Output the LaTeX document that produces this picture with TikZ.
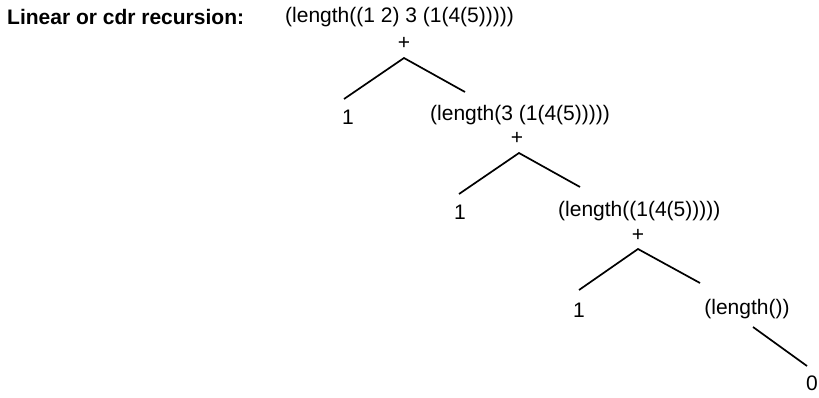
\documentclass[tikz,border=0pt]{standalone}
\usepackage{fontspec}
\setmainfont{Liberation Sans}
\begin{document}
\begin{tikzpicture}[x=1pt,y=-1pt,
  txt/.style={font=\fontsize{21}{25}\selectfont, inner sep=0pt},
  ttl/.style={font=\bfseries\fontsize{21}{25}\selectfont, inner sep=0pt},
  edge/.style={line width=1.7pt}]
\useasboundingbox[fill=white] (0,0) rectangle (819,397);
\node[ttl, anchor=west] (title) at (7,17) {Linear or cdr recursion:};
% level 1
\node[txt, anchor=west] (n1) at (285,17) {(length((1 2) 3 (1(4(5)))))};
\node[txt] (p1) at (404,43) {+};
\coordinate (a1) at (404,58);
\coordinate (l1) at (344,99);
\coordinate (r1) at (465,92);
\node[txt] (o1) at (348,117) {1};
\node[txt, anchor=west] (n2) at (430,115) {(length(3 (1(4(5)))))};
\draw[edge] (l1) -- (a1) -- (r1);
% level 2
\node[txt] (p2) at (517,138) {+};
\coordinate (a2) at (519,153);
\coordinate (l2) at (459,194);
\coordinate (r2) at (580,187);
\node[txt] (o2) at (460,212) {1};
\node[txt, anchor=west] (n3) at (558,211) {(length((1(4(5)))))};
\draw[edge] (l2) -- (a2) -- (r2);
% level 3
\node[txt] (p3) at (638,235) {+};
\coordinate (a3) at (638,249);
\coordinate (l3) at (579,290);
\coordinate (r3) at (700,283);
\node[txt] (o3) at (579,310) {1};
\node[txt] (n4) at (747,309) {(length())};
\draw[edge] (l3) -- (a3) -- (r3);
% level 4
\coordinate (s4) at (753,327);
\coordinate (e4) at (807,366);
\node[txt] (z) at (812,383) {0};
\draw[edge] (s4) -- (e4);
\end{tikzpicture}
\end{document}
